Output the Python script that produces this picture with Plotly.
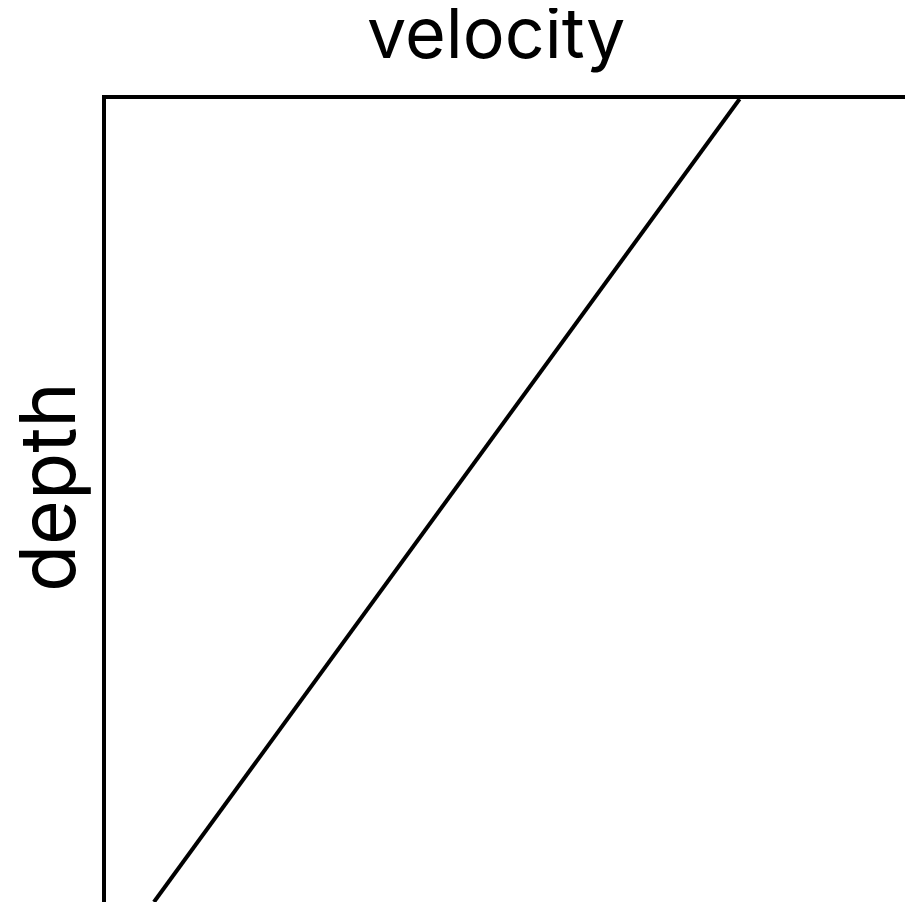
import plotly.graph_objects as go

# velocity vs depth profile (normalised units)
depth = [0.0, 1.0]
velocity = [0.793, 0.060]

x_title = "velocity"
y_title = "depth"

fig = go.Figure()

fig.add_trace(go.Scatter(
    x=velocity,
    y=depth,
    mode="lines",
    line=dict(color="black", width=4),
    showlegend=False,
    hoverinfo="skip",
))

fig.update_xaxes(
    range=[0, 1], side="top", showline=True, linecolor="black", linewidth=4,
    showticklabels=False, ticks="", showgrid=False, zeroline=False,
)
fig.update_yaxes(
    range=[1, 0], showline=True, linecolor="black", linewidth=4,
    showticklabels=False, ticks="", showgrid=False, zeroline=False,
)

fig.add_annotation(
    text=x_title, xref="paper", yref="paper", x=0.4887, y=1.0822,
    xanchor="center", yanchor="middle", showarrow=False,
    font=dict(family="Inter", size=70, color="black"),
)
fig.add_annotation(
    text=y_title, xref="paper", yref="paper", x=-0.0738, y=0.5168,
    xanchor="center", yanchor="middle", textangle=-90, showarrow=False,
    font=dict(family="Inter", size=77, color="black"),
)

fig.update_layout(
    width=897, height=894,
    margin=dict(l=98, r=0, t=91, b=0),
    paper_bgcolor="white", plot_bgcolor="white",
)

fig.write_html("out.html")
